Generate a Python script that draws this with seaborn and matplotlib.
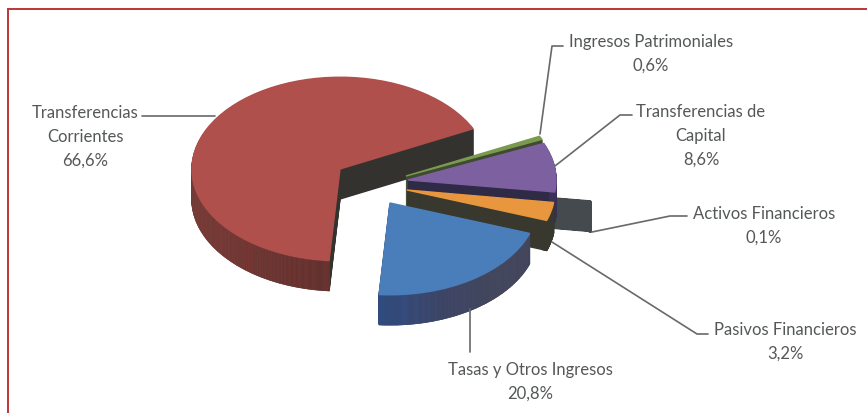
import matplotlib
matplotlib.use("Agg")
import matplotlib.pyplot as plt
import seaborn as sns

sns.set_theme(style="white")
plt.rcParams['font.family'] = ['Lato', 'DejaVu Sans']

# Data
categories = ["Transferencias Corrientes", "Tasas y Otros Ingresos", "Pasivos Financieros",
              "Activos Financieros", "Transferencias de Capital", "Ingresos Patrimoniales"]
values = [66.6, 20.8, 3.2, 0.1, 8.6, 0.6]
value_labels = ["66,6%", "20,8%", "3,2%", "0,1%", "8,6%", "0,6%"]

# Style / layout
W, H = 867, 414
SQ = 0.62
R = 148
DEPTH = 30
START = 26
top_colors = ["#b0504c", "#4a7ebb", "#e8973f", "#454a4e", "#7d60a0", "#7a9a50"]
face_colors = ["#33322f", "#3a3f55", "#38382f", "#454a4e", "#2f2a45", "#3f4a30"]
rim_ramps = [["#33322f", "#33322f", "#a84a46", "#8a3f3b", "#6e3330"],
             ["#2f4f8a", "#3f4768", "#46495f", "#46495f"],
             ["#38382f", "#38382f"],
             ["#454a4e", "#454a4e"],
             ["#3e3460", "#3e3460"],
             ["#3f4a30", "#3f4a30"]]
centers_px = [(340, 170), (390, 204), (407, 191), (444, 190), (408, 181), (406, 177)]
draw_order = [0, 3, 5, 4, 2, 1]
N_SEG = 60

fig = plt.figure(figsize=(W / 100, H / 100), dpi=100, facecolor="white")
ax = fig.add_axes([0, 0, 1, 1])


def to_data(px, py, off=0):
    return (px, (H - py - off) / SQ)


def slice_at(i, center, radius, colors, width=None, z=1):
    """Draw slice i alone; the remainder of the pie is hidden."""
    v = values[i]
    start = START + sum(values[:i]) * 3.6
    n = len(colors)
    sizes = [v / n] * n + [100 - v]
    wp = {"linewidth": 1.0}
    if width is not None:
        wp["width"] = width
    patches, _ = ax.pie(sizes, colors=list(colors) + ["white"], startangle=start,
                        center=center, radius=radius, wedgeprops=wp, frame=True,
                        normalize=True)
    for k, p in enumerate(patches):
        if k == n:
            p.set_visible(False)
        else:
            p.set_edgecolor(p.get_facecolor())
        p.set_zorder(z)


z = 1
for i in draw_order:
    cx, cy = centers_px[i]
    ramp = sns.blend_palette(rim_ramps[i], N_SEG)
    for off in range(DEPTH, 0, -1):
        z += 1
        slice_at(i, to_data(cx, cy, off), R, [face_colors[i]], z=z)
        z += 1
        slice_at(i, to_data(cx, cy, off), R, ramp, width=5, z=z)
    z += 1
    slice_at(i, to_data(cx, cy), R, [top_colors[i]], z=z)

ax.set_aspect("auto")
ax.set_xlim(0, W)
ax.set_ylim(0, H / SQ)
ax.set_axis_off()

# Overlay in pixel space: frame, leader lines, labels
ov = fig.add_axes([0, 0, 1, 1], facecolor="none")
ov.set_xlim(0, W)
ov.set_ylim(H, 0)
ov.set_axis_off()
ov.plot([7.5, 7.5, W], [H, 9.5, 9.5], color="#c03434", lw=1.4, solid_joinstyle="miter")

leaders = [[(142, 117), (215, 117)],
           [(470, 353), (470, 310)],
           [(708, 335), (697, 335), (552, 243)],
           [(687, 217), (670, 217), (592, 233)],
           [(632, 116), (620, 116), (555, 167)],
           [(563, 47), (552, 47), (540, 135)]]
for pts in leaders:
    ov.plot([p[0] for p in pts], [p[1] for p in pts], color="#666a6a", lw=1.2, zorder=3)

label_lines = [["Transferencias", "Corrientes"], ["Tasas y Otros Ingresos"], ["Pasivos Financieros"],
               ["Activos Financieros"], ["Transferencias de", "Capital"], ["Ingresos Patrimoniales"]]
label_pos = [(85, 113), (530, 370), (785, 330), (764, 214), (701, 112), (651, 42)]
for lines, val, (x, y) in zip(label_lines, value_labels, label_pos):
    for k, t in enumerate(lines + [val]):
        ov.text(x, y + k * 24, t, ha="center", va="center", fontsize=12, color="#555858")

fig.savefig("out.png", dpi=100)
